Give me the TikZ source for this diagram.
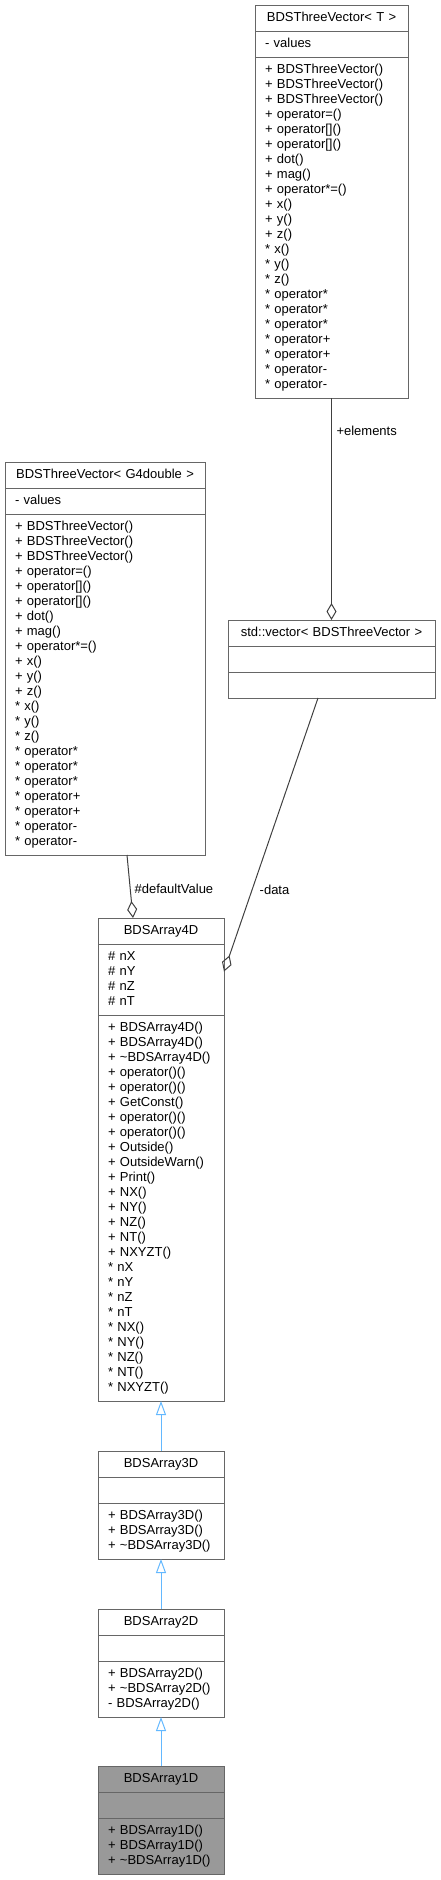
\documentclass[tikz,border=0pt]{standalone}
\usepackage{fontspec}
\setmainfont{Liberation Sans}
\usetikzlibrary{arrows.meta,positioning,calc}
\definecolor{boxgray}{HTML}{666666}
\definecolor{edgegray}{HTML}{404040}
\definecolor{inherit}{HTML}{63B8FF}
\definecolor{curfill}{HTML}{999999}
\tikzset{
  umlcell/.style={draw=boxgray, line width=1pt, inner xsep=10pt, inner ysep=5.5pt,
    outer sep=0pt, text width=#1, execute at begin node=\strut, execute at end node=\strut},
  clsname/.style={umlcell=#1, align=center, anchor=north},
  compart/.style={umlcell=#1, align=left},
  assoc/.style={draw=edgegray, line width=1pt, -{Diamond[open,length=17pt,width=10pt]}},
  inh/.style={draw=inherit, line width=1pt, -{Triangle[open,length=14pt,width=10pt]}},
  role/.style={anchor=west, inner sep=0pt}
}
\begin{document}
\begin{tikzpicture}[x=1pt,y=-1pt,font=\fontsize{13}{15}\selectfont]
	\useasboundingbox (0,0) rectangle (440,1880);
	% BDSThreeVector< T >
	\node[clsname=133pt] (TVec) at (331.5,5) {BDSThreeVector< T >};
	\node[compart=133pt,below=0pt of TVec] (TVecA) {- values};
	\node[compart=133pt,below=0pt of TVecA] (TVecM) {+ BDSThreeVector()\\+ BDSThreeVector()\\+ BDSThreeVector()\\+ operator=()\\+ operator[]()\\+ operator[]()\\+ dot()\\+ mag()\\+ operator*=()\\+ x()\\+ y()\\+ z()\\{}* x()\\{}* y()\\{}* z()\\{}* operator*\\{}* operator*\\{}* operator*\\{}* operator+\\{}* operator+\\{}* operator-\\{}* operator-};
	% BDSThreeVector< G4double >
	\node[clsname=180pt] (GVec) at (105,462) {BDSThreeVector< G4double >};
	\node[compart=180pt,below=0pt of GVec] (GVecA) {- values};
	\node[compart=180pt,below=0pt of GVecA] (GVecM) {+ BDSThreeVector()\\+ BDSThreeVector()\\+ BDSThreeVector()\\+ operator=()\\+ operator[]()\\+ operator[]()\\+ dot()\\+ mag()\\+ operator*=()\\+ x()\\+ y()\\+ z()\\{}* x()\\{}* y()\\{}* z()\\{}* operator*\\{}* operator*\\{}* operator*\\{}* operator+\\{}* operator+\\{}* operator-\\{}* operator-};
	% std::vector
	\node[clsname=187pt] (Vec) at (331.5,620) {std::vector< BDSThreeVector >};
	\node[compart=187pt,below=0pt of Vec] (VecA) {};
	\node[compart=187pt,below=0pt of VecA] (VecM) {};
	% BDSArray4D
	\node[clsname=106pt] (A4D) at (161,918) {BDSArray4D};
	\node[compart=106pt,below=0pt of A4D] (A4DA) {\# nX\\\# nY\\\# nZ\\\# nT};
	\node[compart=106pt,below=0pt of A4DA] (A4DM) {+ BDSArray4D()\\+ BDSArray4D()\\+ \textasciitilde BDSArray4D()\\+ operator()()\\+ operator()()\\+ GetConst()\\+ operator()()\\+ operator()()\\+ Outside()\\+ OutsideWarn()\\+ Print()\\+ NX()\\+ NY()\\+ NZ()\\+ NT()\\+ NXYZT()\\{}* nX\\{}* nY\\{}* nZ\\{}* nT\\{}* NX()\\{}* NY()\\{}* NZ()\\{}* NT()\\{}* NXYZT()};
	% BDSArray3D
	\node[clsname=106pt] (A3D) at (161,1451) {BDSArray3D};
	\node[compart=106pt,below=0pt of A3D] (A3DA) {};
	\node[compart=106pt,below=0pt of A3DA] (A3DM) {+ BDSArray3D()\\+ BDSArray3D()\\+ \textasciitilde BDSArray3D()};
	% BDSArray2D
	\node[clsname=106pt] (A2D) at (161,1609) {BDSArray2D};
	\node[compart=106pt,below=0pt of A2D] (A2DA) {};
	\node[compart=106pt,below=0pt of A2DA] (A2DM) {+ BDSArray2D()\\+ \textasciitilde BDSArray2D()\\- BDSArray2D()};
	% BDSArray1D
	\node[clsname=106pt,fill=curfill] (A1D) at (161,1766) {BDSArray1D};
	\node[compart=106pt,fill=curfill,below=0pt of A1D] (A1DA) {};
	\node[compart=106pt,fill=curfill,below=0pt of A1DA] (A1DM) {+ BDSArray1D()\\+ BDSArray1D()\\+ \textasciitilde BDSArray1D()};
	% usage
	\draw[assoc] (TVecM.south) -- node[role,pos=0.15,xshift=4.5pt] {+elements} (Vec.north);
	\draw[assoc] ($(GVecM.south)+(22,0)$) -- node[role,pos=0.53,xshift=4pt] {\#defaultValue} ($(A4D.north)+(-28,0)$);
	\draw[assoc] ($(VecM.south)+(-13.5,0)$) -- node[role,pos=0.7,xshift=7pt] {-data} ($(A4DA.east)+(0,-8)$);
	% inheritance
	\draw[inh] (A3D.north) -- (A4DM.south);
	\draw[inh] (A2D.north) -- (A3DM.south);
	\draw[inh] (A1D.north) -- (A2DM.south);
\end{tikzpicture}
\end{document}
